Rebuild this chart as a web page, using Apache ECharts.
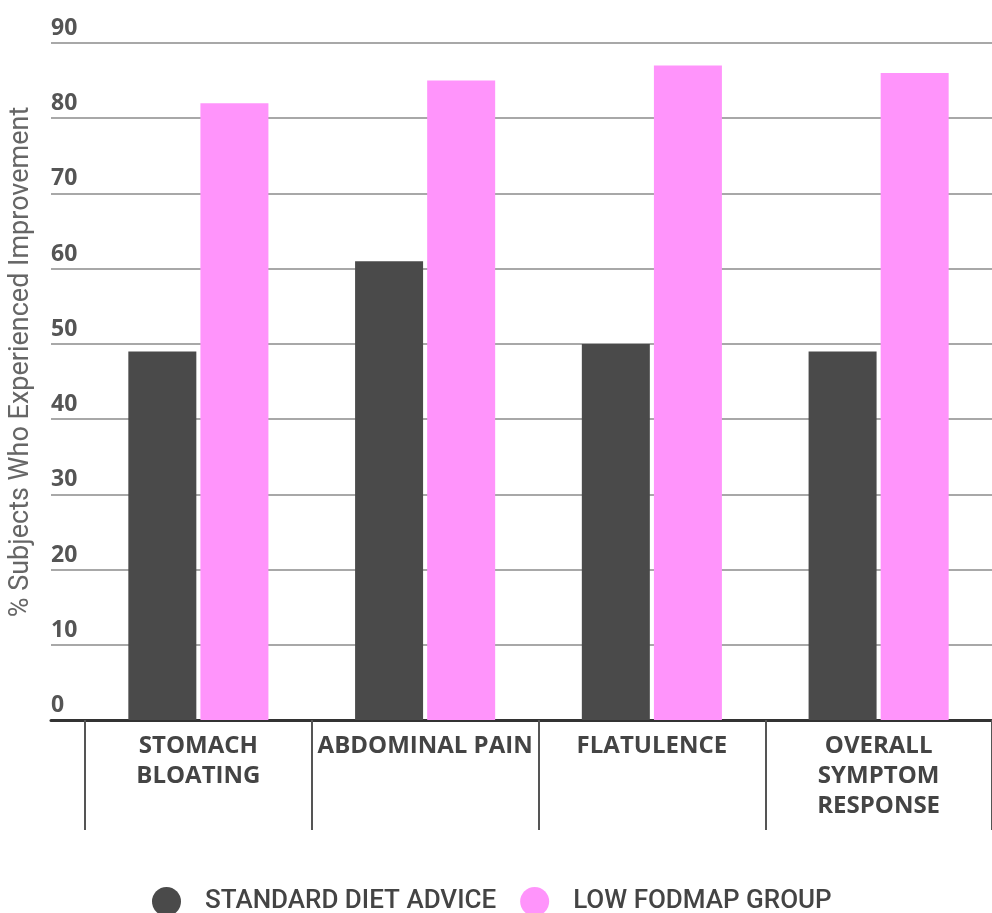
<!DOCTYPE html>
<html>
<head>
<meta charset="utf-8">
<script src="https://cdn.jsdelivr.net/npm/echarts@6/dist/echarts.min.js"></script>
<style>
html,body{margin:0;padding:0;background:#fff;}
#chart{width:992px;height:913px;}
</style>
</head>
<body>
<div id="chart"></div>
<script>
const categories = ['STOMACH\nBLOATING', 'ABDOMINAL PAIN', 'FLATULENCE', 'OVERALL\nSYMPTOM\nRESPONSE'];
const standardDiet = [49, 61, 50, 49];
const lowFodmap = [82, 85, 87, 86];
const seriesNames = ['STANDARD DIET ADVICE', 'LOW FODMAP GROUP'];
const yAxisTitle = '% Subjects Who Experienced Improvement';
const yMin = 0, yMax = 90, yStep = 10;

const chart = echarts.init(document.getElementById('chart'));
const font = 'Roboto, "Noto Sans", sans-serif';
const font2 = '"Open Sans", Roboto, sans-serif';
chart.setOption({
  backgroundColor: '#ffffff',
  animation: false,
  textStyle: { fontFamily: font },
  grid: [
    { left: 51, right: 0, top: 43, bottom: 193 },
    { left: 85, width: 912, top: 43, bottom: 193 }
  ],
  graphic: [{
    type: 'text',
    rotation: Math.PI / 2,
    x: 21, y: 362,
    style: {
      text: yAxisTitle, fill: '#666', fontSize: 27, fontFamily: font,
      align: 'center', verticalAlign: 'middle'
    }
  }],
  legend: {
    top: 882, left: 147,
    icon: 'circle', itemWidth: 29, itemHeight: 29, itemGap: 24,
    textStyle: { fontSize: 26, color: '#444', fontWeight: 500, fontFamily: font, padding: [0, 0, 0, 19] },
    data: seriesNames
  },
  xAxis: [
    {
      gridIndex: 0, type: 'value', min: 0, max: 1,
      axisLine: { show: true, lineStyle: { color: '#333', width: 3 } },
      axisTick: { show: false }, axisLabel: { show: false }, splitLine: { show: false }
    },
    {
      gridIndex: 1, type: 'category', data: categories,
      axisLine: { show: false },
      axisTick: { show: true, length: 110, lineStyle: { color: '#555', width: 2 } },
      axisLabel: {
        interval: 0, color: '#444', fontSize: 24, fontWeight: 'bold', lineHeight: 30,
        margin: 11, fontFamily: font2
      }
    }
  ],
  yAxis: [
    {
      gridIndex: 0, type: 'value', min: yMin, max: yMax, interval: yStep,
      axisLine: { show: false }, axisTick: { show: false },
      splitLine: { lineStyle: { color: '#a8a8a8', width: 2 } },
      axisLabel: {
        inside: true, align: 'left', verticalAlign: 'bottom', margin: 0,
        padding: [0, 0, 3, 0], color: '#555', fontSize: 23, fontWeight: 'bold', fontFamily: font2
      }
    },
    {
      gridIndex: 1, type: 'value', min: yMin, max: yMax, interval: yStep, show: false,
      splitLine: { show: false }
    }
  ],
  series: [
    {
      name: seriesNames[0], type: 'bar', xAxisIndex: 1, yAxisIndex: 1,
      data: standardDiet, barWidth: 68, barGap: '6%',
      itemStyle: { color: '#4a4a4a' }
    },
    {
      name: seriesNames[1], type: 'bar', xAxisIndex: 1, yAxisIndex: 1,
      data: lowFodmap, barWidth: 68, barGap: '6%',
      itemStyle: { color: '#ff94fb' }
    }
  ]
});
</script>
</body>
</html>
